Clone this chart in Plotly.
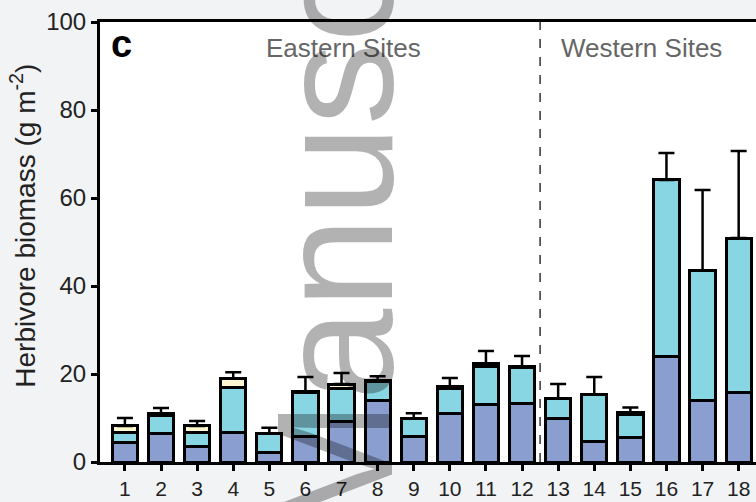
import plotly.graph_objects as go

sites = [str(i) for i in range(1, 19)]
dark = [4.5, 6.4, 3.5, 6.8, 2.1, 5.9, 9.3, 13.9, 5.7, 11.1, 13.0, 13.3, 9.8, 4.6, 5.6, 23.9, 13.9, 15.7]
cyan = [2.3, 4.1, 3.1, 10.2, 4.3, 10.0, 7.5, 4.3, 4.1, 5.7, 8.8, 8.1, 4.7, 10.8, 5.1, 40.2, 29.7, 35.2]
yellow = [1.4, 0.6, 1.6, 1.9, 0.1, 0.1, 0.9, 0.3, 0.1, 0.4, 0.5, 0.3, 0.0, 0.0, 0.6, 0.0, 0.0, 0.0]
err = [1.8, 1.2, 1.1, 1.5, 1.3, 3.3, 2.5, 1.0, 1.2, 1.9, 2.9, 2.4, 3.2, 3.9, 1.1, 6.1, 18.2, 19.8]

xs = list(range(1, 19))
totals = [d + c + y for d, c, y in zip(dark, cyan, yellow)]

FONT = "Liberation Sans, Arial, Helvetica, sans-serif"

fig = go.Figure()
# error bars behind the bars
fig.add_trace(go.Scatter(
    x=xs, y=totals, mode="markers", marker=dict(size=1, color="rgba(0,0,0,0)"),
    error_y=dict(type="data", array=err, arrayminus=[0]*18, symmetric=False,
                 color="black", thickness=2.5, width=8),
    showlegend=False, hoverinfo="skip"))
for vals, col in [(dark, "#8a9ed0"), (cyan, "#88d5e4"), (yellow, "#fdf8d0")]:
    fig.add_trace(go.Bar(x=xs, y=vals, marker=dict(color=col, line=dict(color="black", width=3)),
                         width=0.7, showlegend=False))

fig.update_layout(
    width=756, height=502, barmode="stack",
    margin=dict(l=100, r=0, t=22, b=40),
    paper_bgcolor="#f2f3f5", plot_bgcolor="white",
    font=dict(family=FONT, color="#222"),
    xaxis=dict(range=[0.31, 18.48], tickvals=xs, ticktext=sites, showgrid=False, zeroline=False,
               showline=True, linecolor="black", linewidth=3, mirror=True,
               ticks="outside", ticklen=6, tickwidth=2.5, tickcolor="black",
               tickfont=dict(size=21, color="#222")),
    yaxis=dict(range=[0, 100], tickvals=[0, 20, 40, 60, 80, 100], showgrid=False, zeroline=False,
               showline=True, linecolor="black", linewidth=3,
               ticks="outside", ticklen=6, tickwidth=2.5, tickcolor="black",
               tickfont=dict(size=24, color="#222")),
    shapes=[dict(type="line", xref="x", yref="paper", x0=12.5, x1=12.5, y0=0, y1=1,
                 line=dict(color="#333", width=1.5, dash="dash"))],
    annotations=[
        dict(text="Eastern Sites", x=7.05, y=94, xref="x", yref="y", showarrow=False,
             font=dict(size=26, color="#666")),
        dict(text="Western Sites", x=15.3, y=94, xref="x", yref="y", showarrow=False,
             font=dict(size=26, color="#666")),
        dict(text="<b>c</b>", x=0.55, y=95, xref="x", yref="y", xanchor="left", showarrow=False,
             font=dict(size=38, color="black")),
        dict(text="Herbivore biomass (g m<sup>-2</sup>)", x=-0.147, y=0.536, xref="paper", yref="paper",
             textangle=-90, showarrow=False, font=dict(size=28, color="#222")),
        dict(text="Manuscript", x=0.358, y=0.745, xref="paper", yref="paper", textangle=-90,
             xanchor="center", yanchor="middle", showarrow=False,
             font=dict(size=165, color="rgba(0,0,0,0.3)")),
    ],
)

fig.write_html("out.html")
